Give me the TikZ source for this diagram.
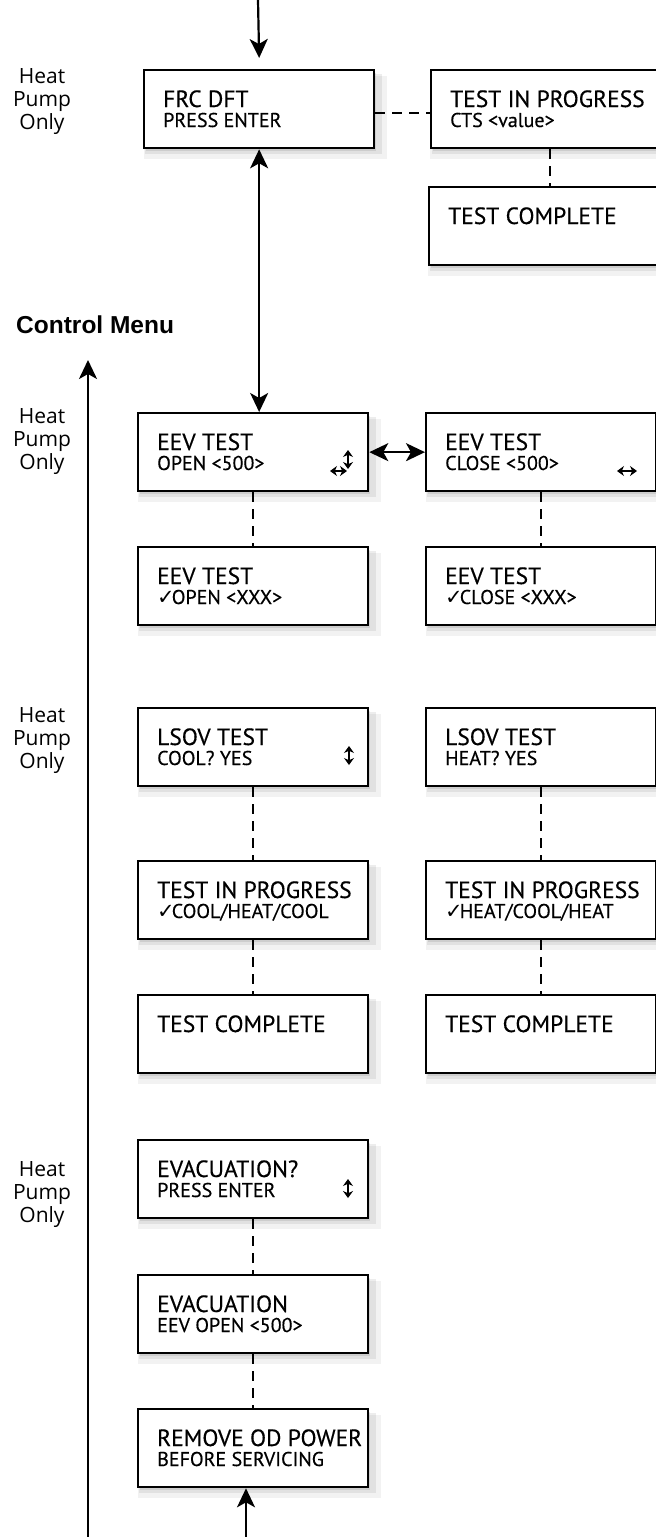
\documentclass[tikz,border=0pt]{standalone}
\usepackage{fontspec}
\setmainfont{PT Sans}
\newfontfamily\lcdfont{PT Sans}[FakeBold=0.4]
\newfontfamily\symfont{DejaVu Sans}
\newfontfamily\notefont{Open Sans}
\newfontfamily\menufont{Liberation Sans}
\usetikzlibrary{arrows.meta,shadows}

\newcommand{\chk}{{\symfont\fontsize{21}{21}\selectfont ✓}\kern-3pt}

\begin{document}
\begin{tikzpicture}[
    x=1pt, y=-1pt,
    lcd/.style={
        draw,
        line width=2.3pt,
        fill=white,
        anchor=north west,
        minimum width=230pt,
        minimum height=78pt,
        inner sep=0pt,
        general shadow={fill=black, opacity=0.05, shadow xshift=6pt, shadow yshift=-8pt, shadow scale=1.06},
        general shadow={fill=black, opacity=0.07, shadow xshift=4pt, shadow yshift=-5pt, shadow scale=1.03},
        general shadow={fill=black, opacity=0.09, shadow xshift=2pt, shadow yshift=-3pt}
    },
    lineone/.style={anchor=base west, inner sep=0pt, xshift=20pt, yshift=-38pt,
        font=\lcdfont\fontsize{23.5}{25}\selectfont},
    linetwo/.style={anchor=base west, inner sep=0pt, xshift=20pt, yshift=-58pt,
        font=\lcdfont\fontsize{20}{22}\selectfont},
    sidenote/.style={align=center, inner sep=0pt, font=\notefont\fontsize{21}{23}\selectfont},
    arr/.style={line width=2.2pt, -{Stealth[length=19pt, width=18pt, inset=5pt]}},
    dblarr/.style={line width=2.2pt, {Stealth[length=19pt, width=18pt, inset=5pt]}-{Stealth[length=19pt, width=18pt, inset=5pt]}},
    dashline/.style={line width=2.2pt, dash pattern=on 10pt off 7pt},
    icon/.style={line width=2.2pt, {Stealth[length=7pt, width=10pt]}-{Stealth[length=7pt, width=10pt]}}
]
\useasboundingbox (0,0) rectangle (656,1537);

% Side notes
\node[sidenote] (hp1) at (42,102) {Heat\\Pump\\Only};
\node[sidenote] (hp2) at (42,442) {Heat\\Pump\\Only};
\node[sidenote] (hp3) at (42,741) {Heat\\Pump\\Only};
\node[sidenote] (hp4) at (42,1195) {Heat\\Pump\\Only};
\node[anchor=base west, inner sep=0pt, font=\menufont\fontsize{24.5}{26}\selectfont\bfseries] (menu) at (16,333) {Control Menu};

% Defrost
\node[lcd, minimum width=230pt, label={[lineone]north west:FRC DFT}, label={[linetwo]north west:PRESS ENTER}] (frc) at (143,69) {};
\node[lcd, minimum width=238pt, label={[lineone]north west:TEST IN PROGRESS}, label={[linetwo]north west:CTS <value>}] (frctip) at (430,69) {};
\node[lcd, minimum width=240pt, label={[lineone]north west:TEST COMPLETE}] (frctc) at (428,186) {};

% EEV test
\node[lcd, label={[lineone]north west:EEV TEST}, label={[linetwo]north west:OPEN <500>}] (eevopen) at (137,412) {};
\node[lcd, label={[lineone]north west:EEV TEST}, label={[linetwo]north west:CLOSE <500>}] (eevclose) at (425,412) {};
\node[lcd, label={[lineone]north west:EEV TEST}, label={[linetwo]north west:\chk OPEN <XXX>}] (eevopenok) at (137,546) {};
\node[lcd, label={[lineone]north west:EEV TEST}, label={[linetwo]north west:\chk CLOSE <XXX>}] (eevcloseok) at (425,546) {};

% LSOV test
\node[lcd, label={[lineone]north west:LSOV TEST}, label={[linetwo]north west:COOL? YES}] (lsovcool) at (137,707) {};
\node[lcd, label={[lineone]north west:LSOV TEST}, label={[linetwo]north west:HEAT? YES}] (lsovheat) at (425,707) {};
\node[lcd, label={[lineone]north west:TEST IN PROGRESS}, label={[linetwo]north west:\chk COOL/HEAT/COOL}] (tipcool) at (137,860) {};
\node[lcd, label={[lineone]north west:TEST IN PROGRESS}, label={[linetwo]north west:\chk HEAT/COOL/HEAT}] (tipheat) at (425,860) {};
\node[lcd, label={[lineone]north west:TEST COMPLETE}] (tccool) at (137,994) {};
\node[lcd, label={[lineone]north west:TEST COMPLETE}] (tcheat) at (425,994) {};

% Evacuation
\node[lcd, label={[lineone]north west:EVACUATION?}, label={[linetwo]north west:PRESS ENTER}] (evacq) at (137,1139) {};
\node[lcd, label={[lineone]north west:EVACUATION}, label={[linetwo]north west:EEV OPEN <500>}] (evac) at (137,1274) {};
\node[lcd, label={[lineone]north west:REMOVE OD POWER}, label={[linetwo]north west:BEFORE SERVICING}] (rmpwr) at (137,1408) {};

% Key icons
\draw[icon] (348,450) -- (348,469);
\draw[icon] (330,471) -- (347,471);
\draw[icon] (617,471) -- (637,471);
\draw[icon] (349,746) -- (349,765);
\draw[icon] (348,1179) -- (348,1198);

% Connectors
\coordinate (topin) at (258,0);
\coordinate (botin) at (246,1537);
\coordinate (menubot) at (88,1537);
\coordinate (menutop) at (88,360);
\draw[arr] (topin) -- ([yshift=11pt]frc.north);
\draw[dblarr] (frc.south) -- (frc.south |- eevopen.north);
\draw[dblarr] (eevopen.east) -- (eevclose.west);
\draw[arr] (botin) -- (botin |- rmpwr.south);
\draw[arr] (menubot) -- (menutop);

\draw[dashline] ([yshift=-4pt]frc.east) -- ([yshift=-4pt]frctip.west);
\draw[dashline] (frctip.south) -- (frctip.south |- frctc.north);
\draw[dashline] (eevopen.south) -- (eevopenok.north);
\draw[dashline] (eevclose.south) -- (eevcloseok.north);
\draw[dashline] (lsovcool.south) -- (tipcool.north);
\draw[dashline] (tipcool.south) -- (tccool.north);
\draw[dashline] (lsovheat.south) -- (tipheat.north);
\draw[dashline] (tipheat.south) -- (tcheat.north);
\draw[dashline] (evacq.south) -- (evac.north);
\draw[dashline] (evac.south) -- (rmpwr.north);

\end{tikzpicture}
\end{document}
